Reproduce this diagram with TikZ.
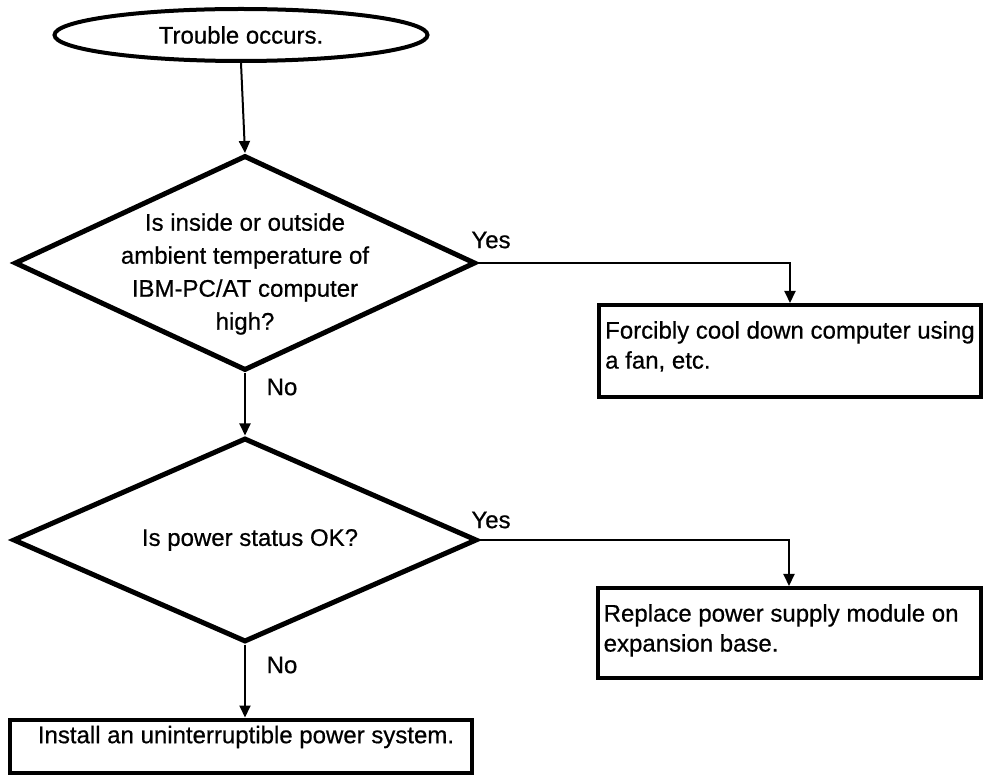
\documentclass[tikz,border=0pt]{standalone}
\usepackage{fontspec}
\setmainfont[FakeBold=0.6]{Liberation Sans}
\usetikzlibrary{shapes.geometric,arrows.meta}
\begin{document}
\begin{tikzpicture}[x=1pt,y=-1pt,
  lbl/.style={inner sep=0pt, font=\fontsize{24}{30}\selectfont},
  dlbl/.style={inner sep=0pt, align=center, font=\fontsize{24}{33}\selectfont},
  decision/.style={diamond, draw, line width=5pt, inner sep=0pt},
  actbox/.style={rectangle, draw, line width=4pt, inner sep=0pt},
  conn/.style={line width=2pt, -{Triangle[length=12pt,width=11pt]}}]
\useasboundingbox (0,0) rectangle (1005,775);

\node[ellipse, draw, line width=4pt, minimum width=373pt, minimum height=52pt, lbl] (start) at (241,35) {Trouble occurs.};

\node[decision, minimum width=461pt, minimum height=215pt] (d1) at (245,263) {};
\node[dlbl] (t1) at (245,274) {Is inside or outside\\ambient temperature of\\IBM-PC/AT computer\\high?};

\node[decision, minimum width=464pt, minimum height=204pt] (d2) at (245,540) {};
\node[lbl] (t2) at (250,540) {Is power status OK?};

\node[actbox, minimum width=382pt, minimum height=92pt] (b1) at (790,351) {};
\node[lbl, align=left, anchor=north west] (tb1) at ([shift={(8,18)}]b1.north west) {Forcibly cool down computer using\\a fan, etc.};

\node[actbox, minimum width=383pt, minimum height=90pt] (b2) at (789,633) {};
\node[lbl, align=left, anchor=north west] (tb2) at ([shift={(8,18)}]b2.north west) {Replace power supply module on\\expansion base.};

\node[actbox, minimum width=462pt, minimum height=53pt] (b3) at (241,746) {};
\node[lbl] (tb3) at (246,737) {Install an uninterruptible power system.};

\node[lbl] (yes1) at (491,240) {Yes};
\node[lbl] (no1) at (282,387) {No};
\node[lbl] (yes2) at (491,520) {Yes};
\node[lbl] (no2) at (282,665) {No};

\draw[conn] (start.south) -- (d1.north);
\draw[conn] (d1.east) -| (b1.north);
\draw[conn] (d1.south) -- (d2.north);
\draw[conn] (d2.east) -| (b2.north);
\draw[conn] (d2.south) -- (d2.south |- b3.north);
\end{tikzpicture}
\end{document}
